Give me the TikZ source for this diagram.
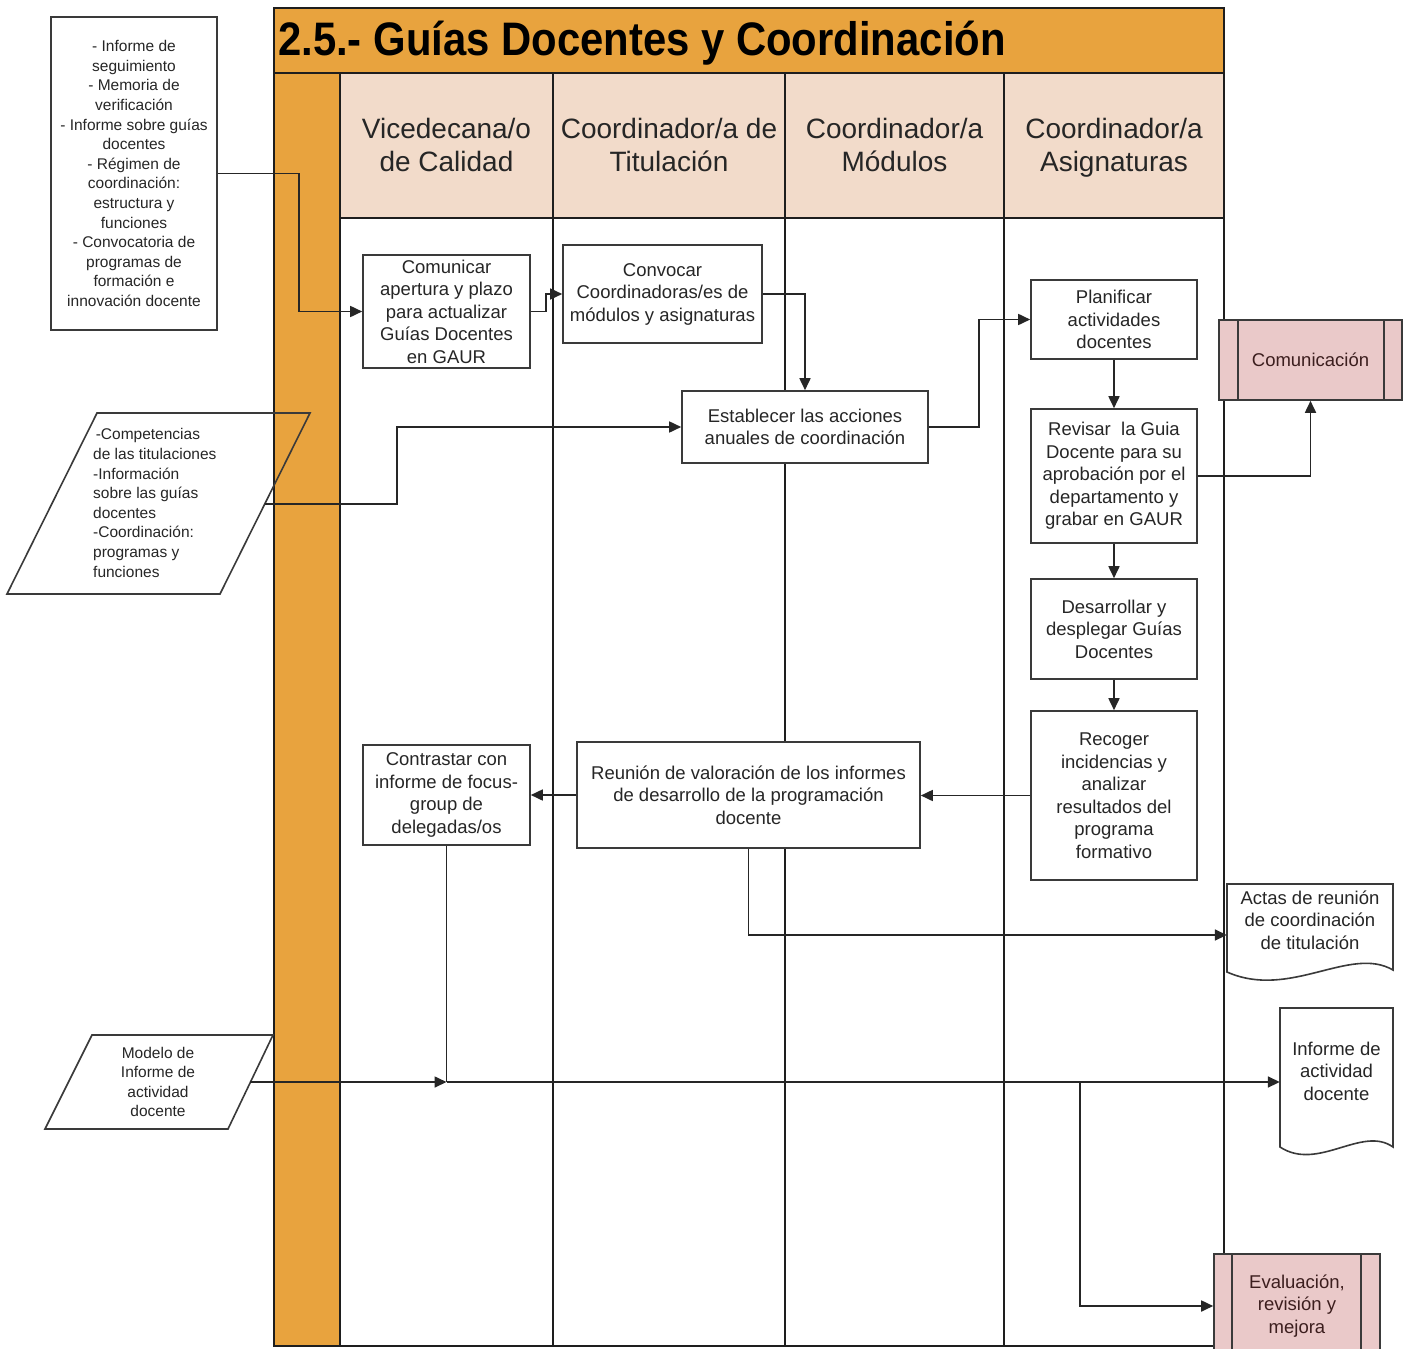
\documentclass[tikz,border=0pt]{standalone}
\usepackage{fontspec}
\usepackage{graphicx}
\setmainfont{Liberation Sans}
\usetikzlibrary{arrows.meta,calc}
\definecolor{orng}{HTML}{E8A33E}
\definecolor{peach}{HTML}{F2DBCA}
\definecolor{pinkbox}{HTML}{EAC9C9}
\definecolor{txt}{HTML}{262626}
\definecolor{edge}{HTML}{3A3A3A}
\definecolor{poolline}{HTML}{1E1E1E}
\begin{document}
\begin{tikzpicture}[x=1pt,y=-1pt,
  proc/.style={draw=edge,line width=1.6pt,fill=white,text=txt,align=center,inner sep=0pt,
    font=\fontsize{18.5}{22.5}\selectfont},
  pinkproc/.style={proc,fill=pinkbox,text={rgb,255:red,60;green,30;blue,30}},
  small/.style={text=txt,align=center,inner sep=0pt,font=\fontsize{15.5}{19.6}\selectfont},
  doctext/.style={text=txt,align=center,inner sep=0pt,font=\fontsize{18.5}{22.5}\selectfont},
  lanehead/.style={text=txt,align=center,inner sep=0pt,font=\fontsize{28}{33}\selectfont},
  pool/.style={draw=poolline,line width=2pt},
  shapeline/.style={draw=edge,line width=1.6pt},
  ln/.style={line width=1.7pt,draw=black!85},
  arr/.style={ln,-{Triangle[length=12pt,width=11pt]}}]
\useasboundingbox (0,0) rectangle (1409,1349);
\clip (0,0) rectangle (1409,1349);
\fill[white] (0,0) rectangle (1409,1349);

% pool
\fill[orng] (274,8) rectangle (1224,73);
\fill[orng] (274,73) rectangle (340,1346);
\fill[peach] (340,73) rectangle (1224,218);
\draw[pool] (274,8) rectangle (1224,1346);
\draw[pool,line width=2.6pt] (274,73) -- (1224,73);
\draw[pool] (340,73) -- (340,1346);
\draw[pool] (340,218) -- (1224,218);
\foreach \xx in {553,785,1004} \draw[pool] (\xx,73) -- (\xx,1346);

% input shapes (outline only, over the pool)
\draw[shapeline] (97,413) -- (310,413) -- (220,594) -- (7,594) -- cycle;
\draw[shapeline] (92,1035) -- (273,1035) -- (228,1129) -- (45,1129) -- cycle;

\node[anchor=base west,inner sep=0pt,text=black] (title) at (278,55)
  {\scalebox{0.89}[1]{\fontsize{47}{50}\selectfont\bfseries 2.5.- Guías Docentes y Coordinación}};

\node[lanehead] (h1) at (446.5,145) {Vicedecana/o\\de Calidad};
\node[lanehead] (h2) at (669,145) {Coordinador/a de\\Titulación};
\node[lanehead] (h3) at (894.5,145) {Coordinador/a\\Módulos};
\node[lanehead] (h4) at (1114,148) {Coordinador/a\\Asignaturas};

% texts of input shapes
\node[small,align=left,anchor=west] (par1) at (93,503)
  {\,-Competencias\\de las titulaciones\\-Información\\sobre las guías\\docentes\\-Coordinación:\\programas y\\funciones};
\coordinate (p1out) at (265,504);
\node[small] (par2) at (158,1082) {Modelo de\\Informe de\\actividad\\docente};
\coordinate (p2out) at (250,1082);

% input document box
\node[proc,draw=edge,line width=1.4pt,font=\fontsize{15.5}{19.6}\selectfont,minimum width=166pt,minimum height=313pt] (in1) at (134,173.5)
  {- Informe de\\seguimiento\\- Memoria de\\verificación\\- Informe sobre guías\\docentes\\- Régimen de\\coordinación:\\estructura y\\funciones\\- Convocatoria de\\programas de\\formación e\\innovación docente};

% process boxes
\node[proc,minimum width=167pt,minimum height=113pt] (comunicar) at (446.5,311.5)
  {Comunicar\\apertura y plazo\\para actualizar\\Guías Docentes\\en GAUR};
\node[proc,minimum width=199pt,minimum height=98pt] (convocar) at (662.5,294)
  {Convocar\\Coordinadoras/es de\\módulos y asignaturas};
\node[proc,minimum width=246pt,minimum height=72pt] (establecer) at (805,427)
  {Establecer las acciones\\anuales de coordinación};
\node[proc,minimum width=166pt,minimum height=79pt] (planificar) at (1114,319.5)
  {Planificar\\actividades\\docentes};
\node[proc,minimum width=166pt,minimum height=134pt] (revisar) at (1114,476)
  {Revisar\ \ la Guia\\Docente para su\\aprobación por el\\departamento y\\grabar en GAUR};
\node[proc,minimum width=166pt,minimum height=100pt] (desarrollar) at (1114,629)
  {Desarrollar y\\desplegar Guías\\Docentes};
\node[proc,minimum width=166pt,minimum height=169pt] (recoger) at (1114,795.5)
  {Recoger\\incidencias y\\analizar\\resultados del\\programa\\formativo};
\node[proc,minimum width=343pt,minimum height=106pt] (reunion) at (748.5,795)
  {Reunión de valoración de los informes\\de desarrollo de la programación\\docente};
\node[proc,minimum width=167pt,minimum height=100pt] (contrastar) at (446.5,795)
  {Contrastar con\\informe de focus-\\group de\\delegadas/os};

% subprocess boxes
\node[pinkproc,minimum width=183pt,minimum height=80pt] (comunicacion) at (1310.5,360) {Comunicación};
\draw[draw=edge,line width=1.6pt] ($(comunicacion.north west)+(20,0)$) -- ($(comunicacion.south west)+(20,0)$);
\draw[draw=edge,line width=1.6pt] ($(comunicacion.north east)+(-19,0)$) -- ($(comunicacion.south east)+(-19,0)$);
\node[pinkproc,minimum width=166pt,minimum height=104pt] (evaluacion) at (1297,1306) {Evaluación,\\revisión y\\mejora};
\draw[draw=edge,line width=1.6pt] ($(evaluacion.north west)+(19,0)$) -- ($(evaluacion.south west)+(19,0)$);
\draw[draw=edge,line width=1.6pt] ($(evaluacion.north east)+(-20,0)$) -- ($(evaluacion.south east)+(-20,0)$);

% output documents
\draw[shapeline,fill=white] (1227,884) -- (1393,884) -- (1393,970)
  .. controls (1350,945) and (1290,1000) .. (1227,972) -- cycle;
\node[doctext,minimum width=166pt,minimum height=72pt] (actas) at (1310,920)
  {Actas de reunión\\de coordinación\\de titulación};
\draw[shapeline,fill=white] (1280,1008) -- (1393,1008) -- (1393,1147)
  .. controls (1362,1125) and (1318,1172) .. (1280,1147) -- cycle;
\node[doctext,minimum width=113pt,minimum height=70pt] (informe) at (1336.5,1071)
  {Informe de\\actividad\\docente};

% connectors
\draw[arr] (in1.east) -- ++(81,0) |- (comunicar.west);
\draw[arr] (comunicar.east) -- ++(15,0) |- (convocar.west);
\draw[arr] (convocar.east) -| (establecer.north);
\draw[arr] (p1out) -- ++(132,0) |- (establecer.west);
\draw[arr] (establecer.east) -- ++(50,0) |- (planificar.west);
\draw[arr] (planificar.south) -- (revisar.north);
\draw[arr] (revisar.east) -| (comunicacion.south);
\draw[arr] (revisar.south) -- (desarrollar.north);
\draw[arr] (desarrollar.south) -- (recoger.north);
\draw[arr] (recoger.west) -- (recoger.west -| reunion.east);
\draw[arr] (reunion.west) -- (contrastar.east);
\draw[arr] (reunion.south) |- ([yshift=-15pt]actas.west);
\coordinate (junc) at (contrastar.south |- p2out);
\draw[ln] (contrastar.south) -- (junc);
\draw[arr] (p2out) -- (junc);
\draw[arr] (junc) -- (informe.west |- junc);
\coordinate (br) at (1080,1082);
\draw[arr] (br) |- (evaluacion.west);
\end{tikzpicture}
\end{document}
